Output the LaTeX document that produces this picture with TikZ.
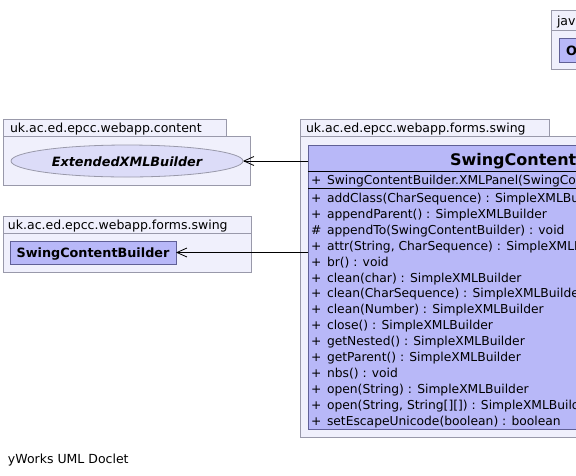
\documentclass[tikz,border=0pt]{standalone}
\usepackage{fontspec}
\setmainfont{DejaVu Sans}
\usetikzlibrary{arrows.meta,shapes.geometric}
\definecolor{pkgfill}{RGB}{240,240,252}
\definecolor{pkgdraw}{RGB}{153,153,170}
\definecolor{clsfill}{RGB}{184,184,248}
\definecolor{clsdraw}{RGB}{96,96,150}
\definecolor{ellfill}{RGB}{220,220,248}
\tikzset{
  x=1pt, y=-1pt,
  pkgbox/.style={draw=pkgdraw, fill=pkgfill, line width=0.8pt, inner sep=0pt, outer sep=0pt, anchor=north west},
  clsbox/.style={draw=clsdraw, fill=clsfill, line width=0.8pt, inner sep=0pt, outer sep=0pt, anchor=north west},
  txt/.style={inner sep=0pt, outer sep=0pt, anchor=base west, font=\fontsize{12.5}{15}\selectfont},
  mtxt/.style={txt, font=\fontsize{12.3}{15}\selectfont},
  btxt/.style={txt, font=\fontsize{12.8}{15}\selectfont\bfseries},
  ttl/.style={txt, font=\fontsize{16}{19}\selectfont\bfseries},
  dep/.style={line width=0.8pt, -{Straight Barb[length=10pt,width=9pt,line width=0.8pt]}},
  sep/.style={line width=0.8pt, draw=black}
}
\begin{document}
\begin{tikzpicture}
\useasboundingbox (0,0) rectangle (576,475);
\clip (0,0) rectangle (576,475);
\fill[white] (0,0) rectangle (576,475);

% package java.lang (top right)
\node[pkgbox, minimum width=60pt, minimum height=20pt] (p4tab) at (551,10) {};
\node[pkgbox, minimum width=60pt, minimum height=39pt] (p4body) at (551,30) {};
\node[clsbox, minimum width=60pt, minimum height=24pt] (obj) at (559,38) {};
\node[txt] (p4lbl) at (557,25) {jav};
\node[btxt] (objlbl) at (566,55) {O};

% package content
\node[pkgbox, minimum width=223pt, minimum height=17pt] (p1tab) at (3,119) {};
\node[pkgbox, minimum width=247pt, minimum height=49pt] (p1body) at (3,136) {};
\node[txt] (p1lbl) at (10,132) {uk.ac.ed.epcc.webapp.content};
\node[ellipse, draw=pkgdraw, fill=ellfill, line width=0.8pt, minimum width=232pt, minimum height=32pt, inner sep=0pt, outer sep=0pt] (ell) at (127,161) {};
\node[btxt, anchor=base, font=\fontsize{12.8}{15}\selectfont\bfseries\itshape] (elllbl) at (127,166) {ExtendedXMLBuilder};

% package forms.swing (left)
\node[pkgbox, minimum width=248pt, minimum height=17pt] (p2tab) at (3,216) {};
\node[pkgbox, minimum width=248pt, minimum height=39pt] (p2body) at (3,233) {};
\node[txt] (p2lbl) at (8,229.5) {uk.ac.ed.epcc.webapp.forms.swing};
\node[clsbox, minimum width=166pt, minimum height=23pt] (scb) at (10,241) {};
\node[btxt, anchor=base] (scblbl) at (93,257) {SwingContentBuilder};

% package forms.swing (right)
\node[pkgbox, minimum width=249pt, minimum height=17pt] (p3tab) at (300,119) {};
\node[pkgbox, minimum width=400pt, minimum height=301pt] (p3body) at (300,136) {};
\node[txt] (p3lbl) at (306,132) {uk.ac.ed.epcc.webapp.forms.swing};
\node[clsbox, minimum width=492pt, minimum height=284pt] (cls) at (308,145) {};
\node[ttl] (clsttl) at (450,165.5) {SwingContentB};
\draw[sep] (308,171) -- (800,171);
\draw[sep] (308,188) -- (800,188);
\node[mtxt] (c0p) at (311,184.5) {+};
\node[mtxt] (c0) at (327,184.5) {SwingContentBuilder.XMLPanel(SwingCon};
\foreach \s/\t [count=\k from 0] in {
  +/{addClass(CharSequence) : SimpleXMLBui},
  +/{appendParent() : SimpleXMLBuilder},
  \#/{appendTo(SwingContentBuilder) : void},
  +/{attr(String, CharSequence) : SimpleXMLB},
  +/{br() : void},
  +/{clean(char) : SimpleXMLBuilder},
  +/{clean(CharSequence) : SimpleXMLBuilder},
  +/{clean(Number) : SimpleXMLBuilder},
  +/{close() : SimpleXMLBuilder},
  +/{getNested() : SimpleXMLBuilder},
  +/{getParent() : SimpleXMLBuilder},
  +/{nbs() : void},
  +/{open(String) : SimpleXMLBuilder},
  +/{open(String, String[][]) : SimpleXMLBuilde},
  +/{setEscapeUnicode(boolean) : boolean}} {
  \node[mtxt] (m\k p) at (311,202.5+15.9*\k) {\s};
  \node[mtxt] (m\k) at (327,202.5+15.9*\k) {\t};
}

% dependencies
\draw[dep] (cls.west |- ell.east) -- (ell.east);
\draw[dep] (cls.west |- scb.east) -- (scb.east);

\node[txt] (foot) at (8,463) {yWorks UML Doclet};
\end{tikzpicture}
\end{document}
